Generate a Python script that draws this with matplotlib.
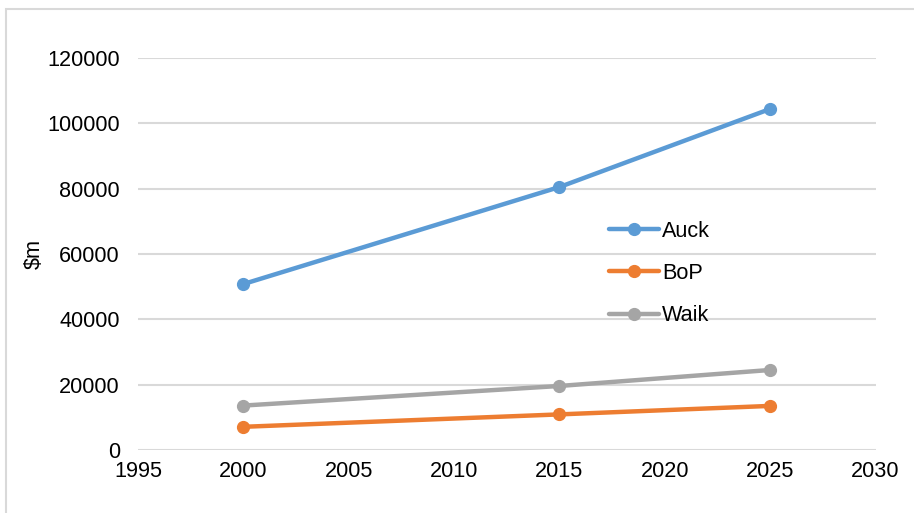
import matplotlib
matplotlib.use('Agg')
from matplotlib import pyplot as plt
from matplotlib.patches import Rectangle

# regional GDP, $m
years = [2000, 2015, 2025]
auck = [50800, 80500, 104400]
bop = [7100, 10900, 13500]
waik = [13600, 19600, 24500]

series_names = ["Auck", "BoP", "Waik"]
series_colors = ["#5B9BD5", "#ED7D31", "#A5A5A5"]

plt.rcParams['font.family'] = ['Liberation Sans', 'DejaVu Sans']
fs = 15.6

fig = plt.figure(figsize=(9.14, 5.13), dpi=100)
ax = fig.add_axes([0.151, 0.1228, 0.807, 0.7642])

# light outer frame of the chart area
fig.patches.append(Rectangle((6 / 914, -0.1), 1.2, 1 - 9 / 513 + 0.1,
                             transform=fig.transFigure, fill=False,
                             edgecolor='#D9D9D9', linewidth=1.5))

for name, values, color in zip(series_names, [auck, bop, waik], series_colors):
    ax.plot(years, values, color=color, linewidth=3.2, marker='o',
            markersize=8.5, label=name, solid_capstyle='round')

ax.set_xlim(1995, 2030)
ax.set_ylim(0, 120000)
ax.set_xticks(range(1995, 2031, 5))
ax.set_yticks(range(0, 120001, 20000))

ax.grid(axis='y', color='#D9D9D9', linewidth=1.5)
ax.set_axisbelow(True)
for spine in ax.spines.values():
    spine.set_visible(False)

ax.tick_params(axis='both', length=0, labelsize=fs, colors='black')
ax.tick_params(axis='x', pad=8)
ax.tick_params(axis='y', pad=13)

ax.set_ylabel("$m", fontsize=fs, labelpad=2)

ax.legend(loc='upper left', bbox_to_anchor=(598 / 914, 1 - 210 / 513),
          bbox_transform=fig.transFigure, frameon=False, fontsize=fs,
          borderpad=0, handlelength=2.3, handletextpad=0.15, labelspacing=0.98)

plt.savefig("out.png", dpi=100)
